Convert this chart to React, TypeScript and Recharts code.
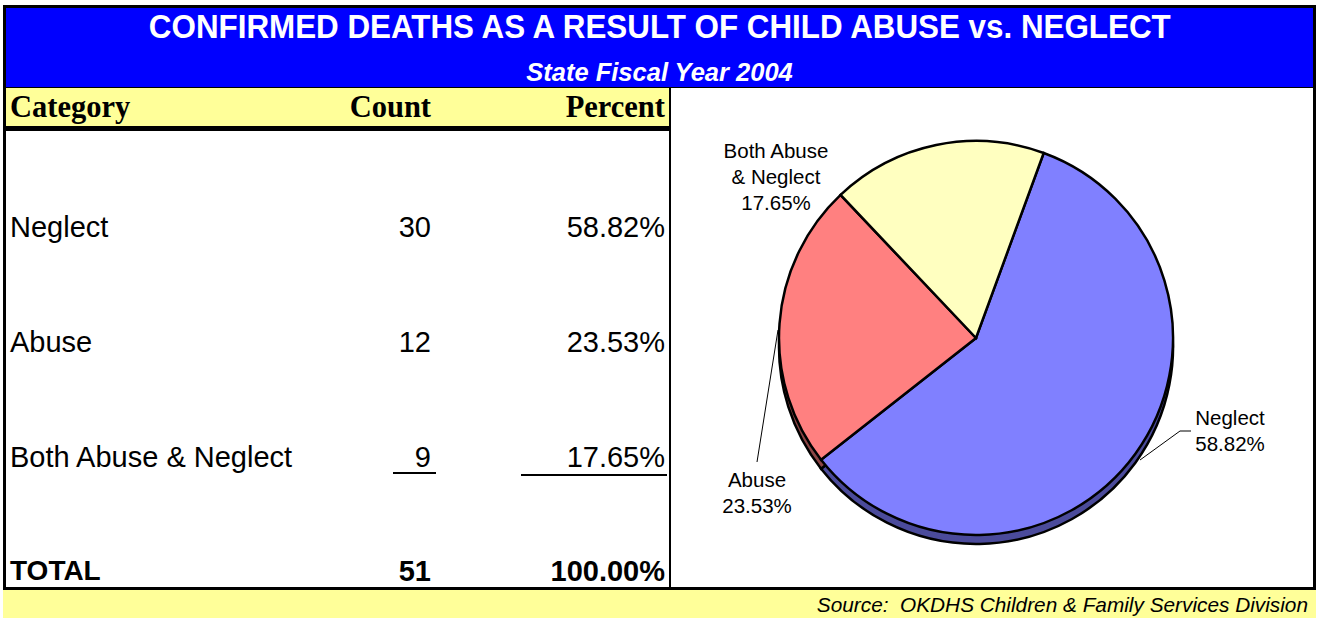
import React from 'react';
import { PieChart, Pie, Cell } from 'recharts';

const CATEGORIES = ['Neglect', 'Abuse', 'Both Abuse & Neglect'];
const COUNTS = [30, 12, 9];
const PIE_LABELS = [['Neglect'], ['Abuse'], ['Both Abuse', '& Neglect']];

const TITLE = 'CONFIRMED DEATHS AS A RESULT OF CHILD ABUSE vs. NEGLECT';
const SUBTITLE = 'State Fiscal Year 2004';
const SOURCE = 'Source:  OKDHS Children & Family Services Division';

const COLORS = ['#8080FF', '#FF8080', '#FFFFC0'];
const SIDE_COLORS = ['#4B4B9B', '#8C4545', '#9C9C70'];

const SANS = '"Liberation Sans", Arial, sans-serif';
const SERIF = '"Liberation Serif", "Times New Roman", serif';

const total = COUNTS.reduce((a, b) => a + b, 0);
const pct = (v: number) => `${((v / total) * 100).toFixed(2)}%`;

const data = CATEGORIES.map((name, i) => ({ name, value: COUNTS[i] }));

// label placement relative to pie centre: text centre + optional leader line
const LABEL_LAYOUT: Record<number, { tx: number; ty: number; line?: number[][] }> = {
  0: { tx: 254, ty: 92, line: [[164, 122], [204, 93], [215, 93]] },
  1: { tx: -219, ty: 154, line: [[-198, -8], [-219, 124]] },
  2: { tx: -200, ty: -162 },
};

const renderLabel = ({ cx, cy, index, percent }: any) => {
  const lay = LABEL_LAYOUT[index];
  if (!lay) return null;
  const lines = [...PIE_LABELS[index], `${(percent * 100).toFixed(2)}%`];
  const lh = 26;
  const y0 = cy + lay.ty - ((lines.length - 1) * lh) / 2;
  return (
    <g key={`lbl-${index}`}>
      {lay.line && (
        <polyline
          points={lay.line.map(p => `${cx + p[0]},${cy + p[1]}`).join(' ')}
          fill="none"
          stroke="#000"
          strokeWidth={1}
        />
      )}
      {lines.map((t, k) => (
        <text
          key={k}
          x={cx + lay.tx}
          y={y0 + k * lh}
          textAnchor="middle"
          dominantBaseline="central"
          fontFamily={SANS}
          fontSize={20.5}
          fill="#000"
        >
          {t}
        </text>
      ))}
    </g>
  );
};

const cellText = (extra: React.CSSProperties): React.CSSProperties => ({
  position: 'absolute',
  fontFamily: SANS,
  fontSize: 29,
  lineHeight: '34px',
  height: 34,
  color: '#000',
  whiteSpace: 'nowrap',
  ...extra,
});

const ROW_Y = [227, 342, 457];
const TOTAL_Y = 571;

export default function App() {
  return (
    <div style={{ position: 'absolute', left: 0, top: 0, width: 1319, height: 618, background: '#fff', overflow: 'hidden' }}>
      {/* outer frame */}
      <div style={{ position: 'absolute', left: 3, top: 5, width: 1313, height: 586, background: '#000' }} />
      {/* title band */}
      <div style={{ position: 'absolute', left: 6, top: 8, width: 1307, height: 79, background: '#0000FF' }} />
      <div style={{ position: 'absolute', left: 6, top: 7, width: 1307, height: 40, lineHeight: '40px', textAlign: 'center', color: '#fff', fontFamily: SANS, fontWeight: 700, fontSize: 33, whiteSpace: 'nowrap', transform: 'scaleX(0.95)', transformOrigin: '659px 50%' }}>
        {TITLE}
      </div>
      <div style={{ position: 'absolute', left: 6, top: 57, width: 1307, height: 30, lineHeight: '30px', textAlign: 'center', color: '#fff', fontFamily: SANS, fontWeight: 700, fontStyle: 'italic', fontSize: 25.5 }}>
        {SUBTITLE}
      </div>

      {/* table header */}
      <div style={{ position: 'absolute', left: 6, top: 88, width: 663, height: 38, background: '#FFFF99' }} />
      <div style={{ position: 'absolute', left: 10, top: 89, height: 36, lineHeight: '36px', fontFamily: SERIF, fontWeight: 700, fontSize: 30.5 }}>Category</div>
      <div style={{ position: 'absolute', right: 1319 - 431, top: 89, height: 36, lineHeight: '36px', fontFamily: SERIF, fontWeight: 700, fontSize: 30.5 }}>Count</div>
      <div style={{ position: 'absolute', right: 1319 - 665, top: 89, height: 36, lineHeight: '36px', fontFamily: SERIF, fontWeight: 700, fontSize: 30.5 }}>Percent</div>

      {/* table body */}
      <div style={{ position: 'absolute', left: 6, top: 131, width: 663, height: 456, background: '#fff' }} />
      {CATEGORIES.map((c, i) => (
        <React.Fragment key={c}>
          <div style={cellText({ left: 10, top: ROW_Y[i] - 17 })}>{c}</div>
          <div style={cellText({ right: 1319 - 431, top: ROW_Y[i] - 17 })}>{COUNTS[i]}</div>
          <div style={cellText({ right: 1319 - 665, top: ROW_Y[i] - 17 })}>{pct(COUNTS[i])}</div>
        </React.Fragment>
      ))}
      <div style={{ position: 'absolute', left: 393, top: 472, width: 43, height: 2, background: '#000' }} />
      <div style={{ position: 'absolute', left: 521, top: 474, width: 146, height: 2, background: '#000' }} />
      <div style={cellText({ left: 10, top: TOTAL_Y - 17, fontWeight: 700, fontSize: 28 })}>TOTAL</div>
      <div style={cellText({ right: 1319 - 431, top: TOTAL_Y - 17, fontWeight: 700 })}>{total}</div>
      <div style={cellText({ right: 1319 - 665, top: TOTAL_Y - 17, fontWeight: 700 })}>{pct(total)}</div>

      {/* pie panel */}
      <div style={{ position: 'absolute', left: 671, top: 88, width: 642, height: 499, background: '#fff' }}>
        <PieChart width={642} height={499}>
          <Pie
            data={data}
            dataKey="value"
            cx={300}
            cy={254}
            outerRadius={197}
            startAngle={69.9}
            endAngle={-290.1}
            stroke="#000"
            strokeWidth={2.5}
            isAnimationActive={false}
          >
            {data.map((d, i) => (
              <Cell key={d.name} fill={SIDE_COLORS[i]} />
            ))}
          </Pie>
          <Pie
            data={data}
            dataKey="value"
            cx={300}
            cy={245}
            outerRadius={197}
            startAngle={69.9}
            endAngle={-290.1}
            stroke="#000"
            strokeWidth={2.5}
            labelLine={false}
            label={renderLabel}
            isAnimationActive={false}
          >
            {data.map((d, i) => (
              <Cell key={d.name} fill={COLORS[i]} />
            ))}
          </Pie>
        </PieChart>
      </div>

      {/* footer */}
      <div style={{ position: 'absolute', left: 3, top: 590, width: 1313, height: 28, background: '#FFFF99' }} />
      <div style={{ position: 'absolute', right: 1319 - 1308, top: 592, height: 26, lineHeight: '26px', fontFamily: SANS, fontStyle: 'italic', fontSize: 20.8, whiteSpace: 'pre', color: '#000' }}>
        {SOURCE}
      </div>
    </div>
  );
}
